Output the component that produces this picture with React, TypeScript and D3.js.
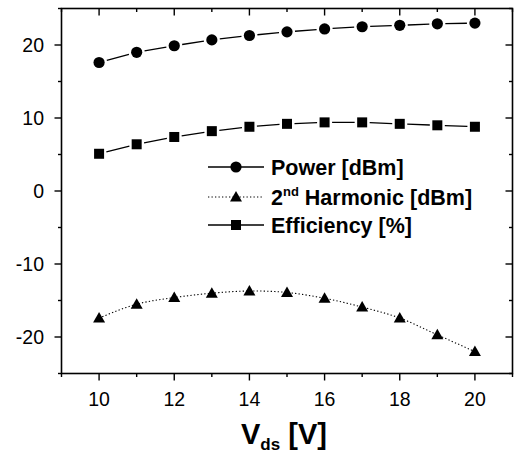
import React from 'react'
import * as d3 from 'd3'

// drain-source voltage (V)
const vds = [10, 11, 12, 13, 14, 15, 16, 17, 18, 19, 20]
// output power [dBm]
const power = [17.6, 19.0, 19.9, 20.7, 21.3, 21.8, 22.2, 22.5, 22.7, 22.9, 23.0]
// 2nd harmonic [dBm]
const harmonic = [-17.4, -15.5, -14.6, -14.0, -13.7, -13.9, -14.7, -15.9, -17.4, -19.7, -22.0]
// drain efficiency [%]
const efficiency = [5.1, 6.4, 7.4, 8.2, 8.8, 9.2, 9.4, 9.4, 9.2, 9.0, 8.8]

const xTicks = [10, 12, 14, 16, 18, 20]
const yTicks = [-20, -10, 0, 10, 20]

const W = 514
const H = 453
const font = '"Liberation Sans", Arial, Helvetica, sans-serif'

const x = d3.scaleLinear().domain([9, 21]).range([61.5, 512.5])
const y = d3.scaleLinear().domain([-25, 25]).range([373.5, 8.5])

type Pt = [number, number]

// Origin style: segments stop short of the markers
const gappedSegments = (pts: Pt[], gap: number) => {
  const segs: string[] = []
  for (let i = 0; i < pts.length - 1; i++) {
    const [x1, y1] = pts[i]
    const [x2, y2] = pts[i + 1]
    const len = Math.hypot(x2 - x1, y2 - y1)
    const ux = (x2 - x1) / len
    const uy = (y2 - y1) / len
    segs.push(`M${x1 + ux * gap},${y1 + uy * gap}L${x2 - ux * gap},${y2 - uy * gap}`)
  }
  return segs.join('')
}

const Circle = ({ cx, cy }: { cx: number; cy: number }) => <circle cx={cx} cy={cy} r={5.6} fill="#000" />
const Square = ({ cx, cy }: { cx: number; cy: number }) => <rect x={cx - 5} y={cy - 5} width={10} height={10} fill="#000" />
const Triangle = ({ cx, cy }: { cx: number; cy: number }) => (
  <path d={`M${cx},${cy - 6}L${cx + 6},${cy + 4.5}L${cx - 6},${cy + 4.5}Z`} fill="#000" />
)

const App = () => {
  const powerPts: Pt[] = vds.map((v, i) => [x(v), y(power[i])])
  const effPts: Pt[] = vds.map((v, i) => [x(v), y(efficiency[i])])
  const harmPts: Pt[] = vds.map((v, i) => [x(v), y(harmonic[i])])

  const smooth = d3.line<Pt>().curve(d3.curveCatmullRom.alpha(0.5))

  const [x0, x1] = x.range()
  const [y0, y1] = y.range()
  const minorX = d3.range(9, 21.01, 1)
  const minorY = d3.range(-25, 25.01, 5)

  const legendX = 208
  const legendRows = [167, 197, 225]
  const legendTextX = 271

  return (
    <svg width={W} height={H} style={{ display: 'block', position: 'absolute', left: 0, top: 0, background: '#fff' }}>
      <rect width={W} height={H} fill="#fff" />

      {/* ticks */}
      <g stroke="#000" strokeWidth={1.4}>
        {minorX.map(v => {
          const major = v % 2 === 0
          const len = major ? 7 : 3.5
          return (
            <g key={'x' + v}>
              <line x1={x(v)} x2={x(v)} y1={y0} y2={y0 + len} />
              <line x1={x(v)} x2={x(v)} y1={y1} y2={y1 + len} />
            </g>
          )
        })}
        {minorY.map(v => {
          const major = v % 10 === 0
          const len = major ? 7 : 3.5
          return (
            <g key={'y' + v}>
              <line x1={x0} x2={x0 - len} y1={y(v)} y2={y(v)} />
              <line x1={x1} x2={x1 - len} y1={y(v)} y2={y(v)} />
            </g>
          )
        })}
      </g>

      {/* frame */}
      <rect x={x0} y={y1} width={x1 - x0} height={y0 - y1} fill="none" stroke="#000" strokeWidth={1.6} />

      {/* tick labels */}
      <g fontFamily={font} fontSize={19.5} fill="#000">
        {xTicks.map(v => (
          <text key={v} x={x(v)} y={406} textAnchor="middle">{v}</text>
        ))}
        {yTicks.map(v => (
          <text key={v} x={44} y={y(v) + 7} textAnchor="end">{v}</text>
        ))}
      </g>

      {/* axis title */}
      <text x={241} y={444} fontFamily={font} fontWeight="bold" fontSize={29} fill="#000">
        V<tspan fontSize={17} dy={6}>ds</tspan>
        <tspan dy={-6}> [V]</tspan>
      </text>

      {/* power */}
      <path d={gappedSegments(powerPts, 8)} fill="none" stroke="#000" strokeWidth={1.3} />
      {powerPts.map(([cx, cy], i) => <Circle key={i} cx={cx} cy={cy} />)}

      {/* efficiency */}
      <path d={gappedSegments(effPts, 7.5)} fill="none" stroke="#000" strokeWidth={1.3} />
      {effPts.map(([cx, cy], i) => <Square key={i} cx={cx} cy={cy} />)}

      {/* 2nd harmonic */}
      <path d={smooth(harmPts) || ''} fill="none" stroke="#000" strokeWidth={1.1} strokeDasharray="1.3,2.2" />
      {harmPts.map(([cx, cy], i) => <Triangle key={i} cx={cx} cy={cy} />)}

      {/* legend */}
      <g>
        <line x1={legendX} x2={legendX + 56} y1={legendRows[0]} y2={legendRows[0]} stroke="#000" strokeWidth={1.3} />
        <Circle cx={legendX + 28} cy={legendRows[0]} />
        <line x1={legendX} x2={legendX + 56} y1={legendRows[1]} y2={legendRows[1]} stroke="#000" strokeWidth={1.1} strokeDasharray="1.3,2.2" />
        <Triangle cx={legendX + 28} cy={legendRows[1]} />
        <line x1={legendX} x2={legendX + 56} y1={legendRows[2]} y2={legendRows[2]} stroke="#000" strokeWidth={1.3} />
        <Square cx={legendX + 28} cy={legendRows[2]} />
        <g fontFamily={font} fontWeight="bold" fontSize={21.5} fill="#000">
          <text x={legendTextX} y={legendRows[0] + 7.5}>Power [dBm]</text>
          <text x={legendTextX} y={legendRows[1] + 7.5}>
            2<tspan fontSize={13} dy={-9}>nd</tspan>
            <tspan dy={9}> Harmonic [dBm]</tspan>
          </text>
          <text x={legendTextX} y={legendRows[2] + 7.5}>Efficiency [%]</text>
        </g>
      </g>
    </svg>
  )
}

export default App
